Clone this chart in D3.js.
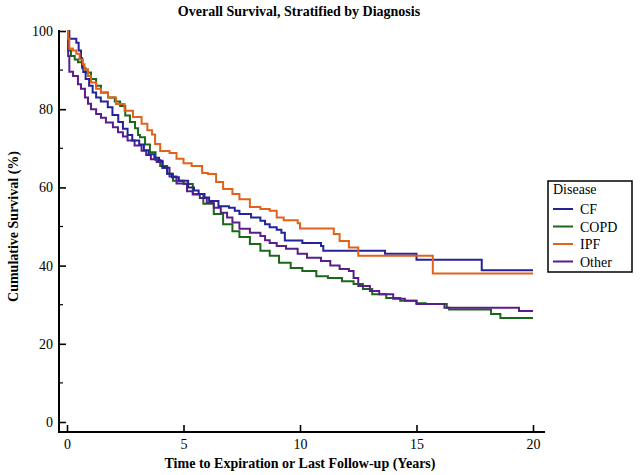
<!DOCTYPE html>
<html>
<head>
<meta charset="utf-8">
<script src="https://cdn.jsdelivr.net/npm/d3@7"></script>
<style>
  html, body { margin: 0; padding: 0; background: #fff; }
  svg { display: block; }
  text { font-family: "Liberation Serif", "Times New Roman", serif; fill: #000; }
</style>
</head>
<body>
<svg id="chart" width="640" height="475"></svg>
<script>
// ---- Data (time in years, cumulative survival %) ----
const seriesNames = ["CF", "COPD", "IPF", "Other"];
const seriesColors = ["#23239a", "#1b681b", "#e2621c", "#5a1e8a"];

const cfData = [[0,100],[0.1,98],[0.4,97],[0.5,95],[0.6,93],[0.65,91],[0.7,89.5],[0.8,87.7],[0.95,86],[1.1,84.3],[1.25,83],[1.45,82],[1.75,80.5],[1.95,78.5],[2.2,76.7],[2.4,75],[2.6,73.4],[2.8,72],[3.1,71],[3.3,69.5],[3.5,68.5],[3.75,67.6],[3.95,66.8],[4.1,65],[4.3,63.5],[4.5,62.6],[4.8,61.7],[5.2,60],[5.45,59.2],[5.65,58.3],[5.9,57.4],[6.1,56.5],[6.5,55.2],[6.95,54.8],[7.2,54],[7.4,53.2],[7.9,52.3],[8.3,51.5],[8.5,50.6],[8.7,49.8],[9.0,49.2],[9.2,48.4],[9.35,46.4],[10.1,45.8],[10.9,45],[11.0,43.8],[13.65,43],[15.0,41.5],[17.8,38.8],[20,38.8]];

const copdData = [[0,100],[0.05,95],[0.17,93.6],[0.33,92.7],[0.47,92],[0.65,90.5],[0.8,89.4],[1.03,87.7],[1.25,86],[1.46,84.3],[1.76,83],[2.05,82],[2.28,80.8],[2.5,78.4],[2.7,76.7],[2.92,75.1],[3.05,73.4],[3.13,72.8],[3.35,71],[3.56,69],[3.8,67],[4.0,65.5],[4.3,63.5],[4.55,61.7],[5.0,60.9],[5.4,58.3],[5.85,55.8],[6.3,53.2],[6.7,50.6],[7.1,48.8],[7.4,47.3],[7.85,45.5],[8.3,43.8],[8.7,42.5],[9.1,40.7],[9.6,39.4],[10.1,38.6],[10.7,37.3],[11.2,36.8],[11.8,36],[12.3,35.3],[12.7,34],[13.1,32.7],[13.7,31.7],[14.3,31],[15.0,30.4],[15.4,30.2],[16.3,29.2],[16.4,28.8],[18.2,27.6],[18.6,26.6],[20,26.6]];

const ipfData = [[0,100],[0.05,98],[0.1,95.5],[0.25,95],[0.4,94.2],[0.54,92.7],[0.68,91.5],[0.75,90.2],[0.9,88.5],[1.03,86.8],[1.25,85.2],[1.46,84.2],[1.76,83],[2.1,81.3],[2.47,79.6],[2.83,78],[3.2,76.3],[3.45,74.6],[3.65,73.5],[3.78,71.1],[4.0,69.3],[4.4,68.8],[4.7,67.3],[5.0,66.2],[5.35,65.5],[5.8,63.7],[6.05,63.4],[6.4,61.4],[6.7,59.6],[7.1,58.3],[7.4,57],[7.85,55],[8.3,54.5],[8.7,54],[9.0,52.3],[9.3,51.6],[9.9,50.8],[10.0,49.5],[11.45,48.1],[11.7,46.3],[12.1,44.6],[12.5,42.5],[15.7,38],[20,38]];

const otherData = [[0,100],[0.05,93.6],[0.1,89.6],[0.26,88.5],[0.47,86.4],[0.6,85.2],[0.77,83],[0.9,81.4],[1.03,80],[1.25,78.8],[1.46,77.8],[1.67,76.6],[1.97,75.4],[2.19,74.1],[2.4,73],[2.6,72],[2.9,70.7],[3.2,69.4],[3.4,68.3],[3.6,67.2],[3.85,66.5],[4.1,65],[4.4,62.8],[4.7,61],[5.15,59],[5.4,58.2],[5.7,57.3],[6.0,56],[6.3,54.8],[6.6,53.5],[6.87,52.3],[7.1,51],[7.4,49.4],[7.85,48.4],[8.3,47.6],[8.5,46.5],[8.7,45.8],[9.0,45],[9.4,44.3],[9.9,43],[10.3,42],[10.9,41.2],[11.3,40],[11.7,39.1],[12.1,38.6],[12.3,36.8],[12.5,34.8],[13.0,33.5],[13.4,32.7],[14.0,31.5],[14.5,31],[15.0,30.2],[16.2,29.2],[19.4,28.4],[20,28.4]];

const xTicks = [0, 5, 10, 15, 20];
const yTicks = [0, 20, 40, 60, 80, 100];
const yMinorTicks = [10, 30, 50, 70, 90];

const titleText = "Overall Survival, Stratified by Diagnosis";
const xLabel = "Time to Expiration or Last Follow-up (Years)";
const yLabel = "Cumulative Survival (%)";
const legendTitle = "Disease";

// ---- Layout ----
const svg = d3.select("#chart");
const x = d3.scaleLinear().domain([0, 20]).range([67, 533]);
const y = d3.scaleLinear().domain([0, 100]).range([422, 31]);
const axisX0 = 59;   // position of the y-axis line
const axisY0 = 432;  // position of the x-axis line

// Title
svg.append("text")
  .attr("x", 299).attr("y", 16)
  .attr("text-anchor", "middle")
  .attr("font-size", 14).attr("font-weight", "bold")
  .text(titleText);

// Y axis
const yAxis = d3.axisLeft(y).tickValues(yTicks).tickSize(-7).tickPadding(6).tickFormat(d3.format("d"));
const gy = svg.append("g").attr("transform", `translate(${axisX0},0)`).call(yAxis);
gy.select(".domain").remove();
gy.selectAll(".tick line").attr("stroke", "#000").attr("stroke-width", 1.6);
gy.selectAll(".tick text").attr("font-size", 14).attr("font-family", "Liberation Serif, serif");
gy.selectAll(".minor").data(yMinorTicks).enter().append("line")
  .attr("x1", 0).attr("x2", 4)
  .attr("y1", d => y(d)).attr("y2", d => y(d))
  .attr("stroke", "#000").attr("stroke-width", 1.2);
svg.append("line")
  .attr("x1", axisX0).attr("x2", axisX0)
  .attr("y1", y(100) - 1).attr("y2", axisY0 + 1)
  .attr("stroke", "#000").attr("stroke-width", 2);

// X axis
const xAxis = d3.axisBottom(x).tickValues(xTicks).tickSize(-7).tickPadding(7).tickFormat(d3.format("d"));
const gx = svg.append("g").attr("transform", `translate(0,${axisY0})`).call(xAxis);
gx.select(".domain").remove();
gx.selectAll(".tick line").attr("stroke", "#000").attr("stroke-width", 1.6);
gx.selectAll(".tick text").attr("font-size", 14).attr("font-family", "Liberation Serif, serif");
svg.append("line")
  .attr("x1", axisX0 - 1).attr("x2", x(20) + 12)
  .attr("y1", axisY0).attr("y2", axisY0)
  .attr("stroke", "#000").attr("stroke-width", 2);

// Axis labels
svg.append("text")
  .attr("x", 300).attr("y", 468)
  .attr("text-anchor", "middle")
  .attr("font-size", 14).attr("font-weight", "bold")
  .text(xLabel);
svg.append("text")
  .attr("transform", `translate(18,${(y(100) + y(0)) / 2}) rotate(-90)`)
  .attr("text-anchor", "middle")
  .attr("font-size", 14).attr("font-weight", "bold")
  .text(yLabel);

// Curves
const allData = [cfData, copdData, ipfData, otherData];
const line = d3.line().x(d => x(d[0])).y(d => y(d[1])).curve(d3.curveStepAfter);
const drawOrder = [1, 3, 0, 2];
drawOrder.forEach(i => {
  svg.append("path")
    .datum(allData[i])
    .attr("fill", "none")
    .attr("stroke", seriesColors[i])
    .attr("stroke-width", 2)
    .attr("d", line);
});

// Legend
const lg = svg.append("g").attr("transform", "translate(548,181)");
lg.append("rect").attr("x", 0).attr("y", 0).attr("width", 84).attr("height", 91)
  .attr("fill", "#fff").attr("stroke", "#000").attr("stroke-width", 1.5);
lg.append("text").attr("x", 5).attr("y", 13).attr("font-size", 14).text(legendTitle);
seriesNames.forEach((name, i) => {
  const cy = 28 + i * 17.5;
  lg.append("line").attr("x1", 5).attr("x2", 25).attr("y1", cy).attr("y2", cy)
    .attr("stroke", seriesColors[i]).attr("stroke-width", 2);
  lg.append("text").attr("x", 32).attr("y", cy + 5).attr("font-size", 14).text(name);
});
</script>
</body>
</html>
